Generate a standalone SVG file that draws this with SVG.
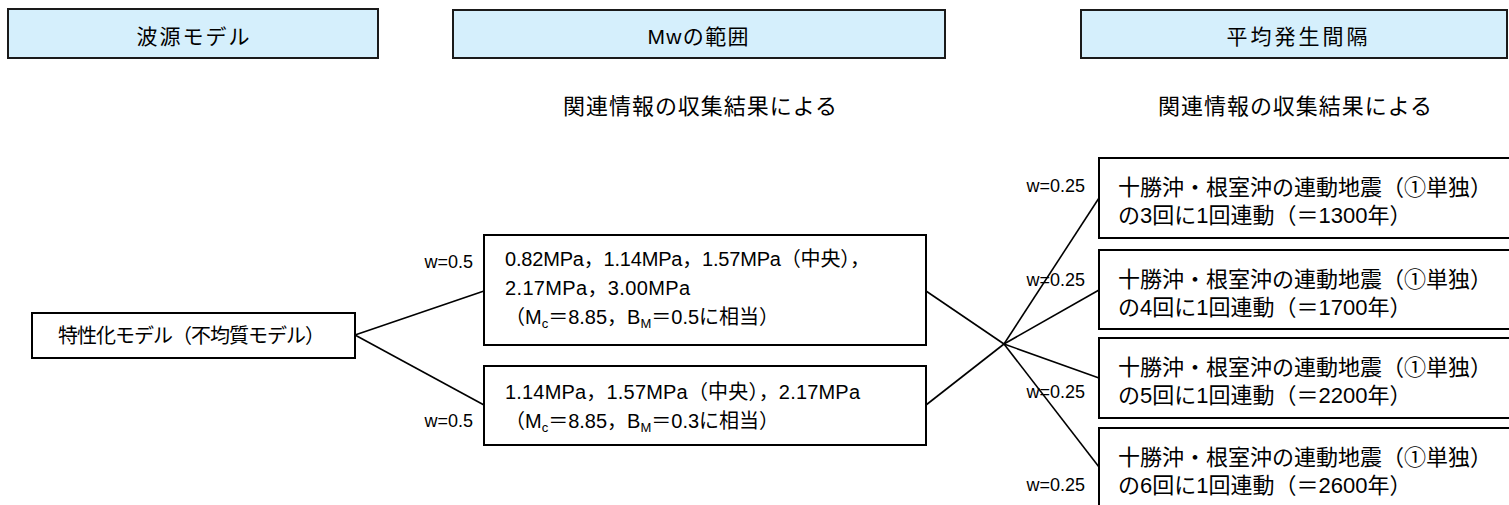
<svg xmlns="http://www.w3.org/2000/svg" width="1509" height="505" viewBox="0 0 1509 505">
<style>
text{font-family:"Liberation Sans","Noto Sans CJK JP",sans-serif;fill:#000;dominant-baseline:central}
.hdr{fill:#d5effc;stroke:#1a1a1a;stroke-width:2}
.box{fill:#fff;stroke:#000;stroke-width:2}
.conn line{stroke:#000;stroke-width:1.6}
.h{font-size:21px;text-anchor:middle}
.sub{font-size:22px}
.t{font-size:20px}
.r{font-size:22px}
.w{font-size:18px;text-anchor:end}
.s{font-size:13px}
</style>
<rect width="1509" height="505" fill="#fff"/>
<g id="hdr-source"><rect class="hdr" x="8" y="9" width="370" height="49"/><text class="h" x="193" y="36" textLength="113" lengthAdjust="spacing">波源モデル</text></g>
<g id="hdr-mw"><rect class="hdr" x="453" y="10" width="492" height="48"/><text class="h" x="698" y="36" textLength="101" lengthAdjust="spacing">Mwの範囲</text><text class="sub" x="563" y="106" textLength="274" lengthAdjust="spacing">関連情報の収集結果による</text></g>
<g id="hdr-interval"><rect class="hdr" x="1081" y="10" width="426" height="48"/><text class="h" x="1297" y="36" textLength="141" lengthAdjust="spacing">平均発生間隔</text><text class="sub" x="1158" y="106" textLength="274" lengthAdjust="spacing">関連情報の収集結果による</text></g>
<g class="conn" id="connectors">
<line x1="355" y1="335" x2="484" y2="291"/>
<line x1="355" y1="335" x2="484" y2="405"/>
<line x1="926" y1="291" x2="1004" y2="344"/>
<line x1="926" y1="405" x2="1004" y2="344"/>
<line x1="1004" y1="344" x2="1099" y2="198"/>
<line x1="1004" y1="344" x2="1099" y2="290"/>
<line x1="1004" y1="344" x2="1099" y2="378"/>
<line x1="1004" y1="344" x2="1099" y2="467"/>
<text class="w" x="473" y="262">w=0.5</text>
<text class="w" x="473" y="421">w=0.5</text>
<text class="w" x="1085" y="186">w=0.25</text>
<text class="w" x="1085" y="280">w=0.25</text>
<text class="w" x="1085" y="392">w=0.25</text>
<text class="w" x="1085" y="485">w=0.25</text>
</g>
<g id="node-model"><rect class="box" x="32" y="313" width="323" height="45"/><text class="t" x="58" y="336" textLength="267" lengthAdjust="spacing">特性化モデル（不均質モデル）</text></g>
<g id="node-mw1"><rect class="box" x="484" y="235" width="442" height="110"/>
<text class="t" x="505" y="259" textLength="365" lengthAdjust="spacing">0.82MPa，1.14MPa，1.57MPa（中央），</text>
<text class="t" x="505" y="288" textLength="185" lengthAdjust="spacing">2.17MPa，3.00MPa</text>
<text class="t" x="505" y="317">（M<tspan class="s" dy="6">c</tspan><tspan dy="-6">＝8.85，B</tspan><tspan class="s" dy="6">M</tspan><tspan dy="-6">＝0.5に相当）</tspan></text>
</g>
<g id="node-mw2"><rect class="box" x="484" y="366" width="442" height="79"/>
<text class="t" x="505" y="392" textLength="355" lengthAdjust="spacing">1.14MPa，1.57MPa（中央），2.17MPa</text>
<text class="t" x="505" y="421">（M<tspan class="s" dy="6">c</tspan><tspan dy="-6">＝8.85，B</tspan><tspan class="s" dy="6">M</tspan><tspan dy="-6">＝0.3に相当）</tspan></text>
</g>
<g id="node-int1"><rect class="box" x="1099" y="158" width="420" height="80"/>
<text class="r" x="1118" y="187">十勝沖・根室沖の連動地震（①単独）</text>
<text class="r" x="1118" y="215">の3回に1回連動（＝1300年）</text></g>
<g id="node-int2"><rect class="box" x="1099" y="250" width="420" height="79"/>
<text class="r" x="1118" y="279">十勝沖・根室沖の連動地震（①単独）</text>
<text class="r" x="1118" y="307">の4回に1回連動（＝1700年）</text></g>
<g id="node-int3"><rect class="box" x="1099" y="338" width="420" height="80"/>
<text class="r" x="1118" y="367">十勝沖・根室沖の連動地震（①単独）</text>
<text class="r" x="1118" y="395">の5回に1回連動（＝2200年）</text></g>
<g id="node-int4"><rect class="box" x="1099" y="428" width="420" height="90"/>
<text class="r" x="1118" y="457">十勝沖・根室沖の連動地震（①単独）</text>
<text class="r" x="1118" y="485">の6回に1回連動（＝2600年）</text></g>
</svg>
